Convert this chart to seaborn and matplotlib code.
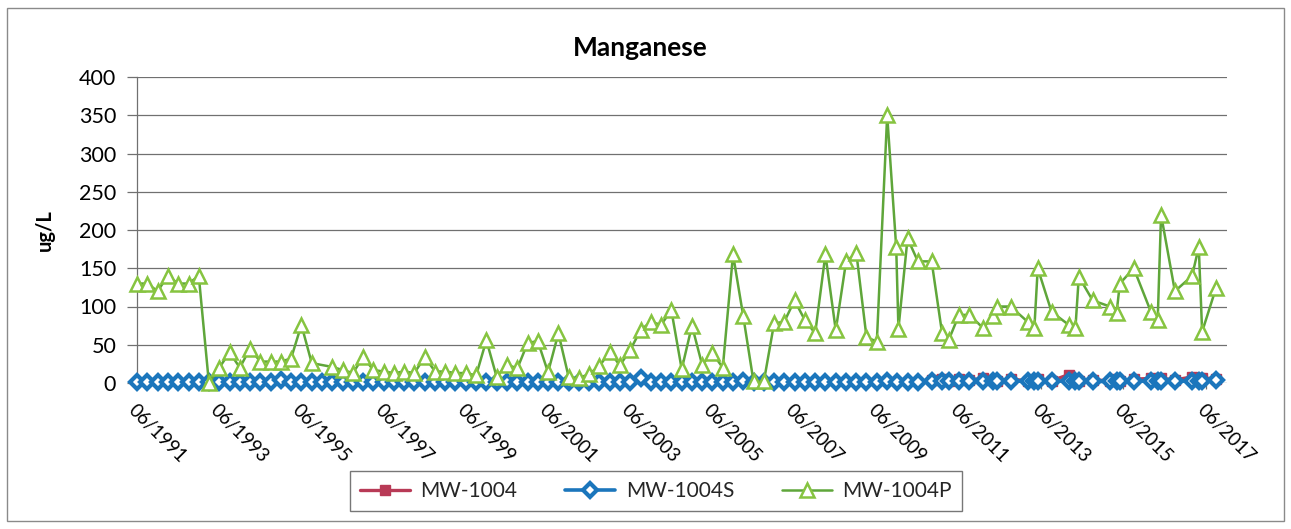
import matplotlib
matplotlib.use("Agg")
import matplotlib.pyplot as plt
from matplotlib.patches import Rectangle
import pandas as pd
import seaborn as sns

sns.set_theme(style="white")
plt.rcParams["font.family"] = ["Lato", "DejaVu Sans"]

# ---------------------------------------------------------------- data (ug/L)
TITLE = "Manganese"
Y_LABEL = "ug/L"
SERIES_NAMES = ["MW-1004", "MW-1004S", "MW-1004P"]
TICK_LABELS = ["06/1991", "06/1993", "06/1995", "06/1997", "06/1999", "06/2001",
               "06/2003", "06/2005", "06/2007", "06/2009", "06/2011", "06/2013",
               "06/2015", "06/2017"]

# recent sampling rounds shared by all three wells
RECENT_DATES = [
    "2010-10",
    "2011-01", "2011-03", "2011-06", "2011-09",
    "2012-01", "2012-04", "2012-05", "2012-09",
    "2013-02", "2013-04", "2013-05", "2013-09",
    "2014-02", "2014-04", "2014-05", "2014-09",
    "2015-02", "2015-04", "2015-05", "2015-09",
    "2016-02", "2016-04", "2016-05", "2016-09",
    "2017-02", "2017-04", "2017-05", "2017-09",
]

# MW-1004 (recent rounds only)
MW1004_DATES = RECENT_DATES
MW1004_VALUES = [4, 5, 3, 5, 4, 6, 4, 3, 5, 3, 4, 5, 3, 11, 5, 3, 4, 3, 5, 3,
                 5, 6, 5, 6, 4, 8, 7, 7, 5]

# MW-1004S, quarterly until mid-2010
MW1004S_DATES = [
    "1991-06", "1991-09", "1991-12",
    "1992-03", "1992-06", "1992-09", "1992-12",
    "1993-03", "1993-06", "1993-09", "1993-12",
    "1994-03", "1994-06", "1994-09", "1994-12",
    "1995-03", "1995-06", "1995-09", "1995-12",
    "1996-03", "1996-06", "1996-09", "1996-12",
    "1997-03", "1997-06", "1997-09", "1997-12",
    "1998-03", "1998-06", "1998-09", "1998-12",
    "1999-03", "1999-06", "1999-09", "1999-12",
    "2000-03", "2000-06", "2000-09", "2000-12",
    "2001-03", "2001-06", "2001-09", "2001-12",
    "2002-03", "2002-06", "2002-09", "2002-12",
    "2003-03", "2003-06", "2003-09", "2003-12",
    "2004-03", "2004-06", "2004-09", "2004-12",
    "2005-03", "2005-06", "2005-09", "2005-12",
    "2006-03", "2006-06", "2006-09", "2006-12",
    "2007-03", "2007-06", "2007-09", "2007-12",
    "2008-03", "2008-06", "2008-09", "2008-12",
    "2009-03", "2009-06", "2009-09", "2009-12",
    "2010-03", "2010-06",
] + RECENT_DATES
MW1004S_VALUES = [
    1, 1, 1,
    1, 1, 1, 1,
    1, 1, 1, 1,
    1, 1, 1, 4,
    1, 1, 1, 1,
    1, 1, 1, 1,
    1, 1, 1, 1,
    1, 1, 1, 1,
    1, 1, 1, 1,
    1, 1, 1, 1,
    1, 1, 1, 1,
    1, 1, 1, 1,
    1, 1, 6, 1,
    1, 1, 1, 1,
    1, 1, 1, 1,
    3, 1, 1, 1,
    1, 1, 1, 1,
    1, 1, 1, 1,
    1, 1, 3, 1,
    1, 1,
    2, 3, 2, 3, 2, 3, 2, 2, 3, 2, 2, 2, 3, 2, 2, 3, 2, 2, 3, 2,
    3, 2, 3, 2, 3, 2, 3, 2, 4,
]

# MW-1004P
MW1004P_DATES = [
    "1991-06", "1991-09", "1991-12",
    "1992-03", "1992-06", "1992-09", "1992-12",
    "1993-03", "1993-06", "1993-09", "1993-12",
    "1994-03", "1994-06", "1994-09", "1994-12",
    "1995-03", "1995-06", "1995-09",
    "1996-03", "1996-06", "1996-09", "1996-12",
    "1997-03", "1997-06", "1997-09", "1997-12",
    "1998-03", "1998-06", "1998-09", "1998-12",
    "1999-03", "1999-06", "1999-09", "1999-12",
    "2000-03", "2000-06", "2000-09", "2000-12",
    "2001-03", "2001-06", "2001-09", "2001-12",
    "2002-03", "2002-06", "2002-09", "2002-12",
    "2003-03", "2003-06", "2003-09", "2003-12",
    "2004-03", "2004-06", "2004-09", "2004-12",
    "2005-03", "2005-06", "2005-09", "2005-12",
    "2006-03", "2006-06", "2006-09", "2006-12",
    "2007-03", "2007-06", "2007-09", "2007-12",
    "2008-03", "2008-06", "2008-09", "2008-12",
    "2009-03", "2009-06", "2009-09", "2009-11-20", "2009-12-10",
    "2010-03", "2010-06",
] + RECENT_DATES
MW1004P_VALUES = [
    130, 130, 120,
    140, 130, 130, 140,
    0, 20, 40, 20,
    45, 28, 28, 28,
    32, 76, 26,
    21, 17, 13, 34,
    17, 15, 13, 15,
    13, 34, 15, 15,
    13, 13, 10, 56,
    8, 24, 19, 52,
    55, 14, 65, 8,
    6, 12, 22, 41,
    23, 43, 69, 80,
    76, 95, 18, 75,
    24, 39, 20, 168,
    88, 2, 2, 78,
    80, 108, 82, 65,
    168, 69, 159, 170,
    60, 54, 350, 178, 71,
    189, 159,
    159,
    66, 56, 89, 89,
    72, 87, 100, 100,
    80, 72, 150, 93,
    76, 72, 139, 108,
    100, 91, 130, 150,
    93, 82, 220, 120,
    140, 178, 67, 124,
]

# ---------------------------------------------------------------- styling
RED = "#B83A56"
BLUE = "#1B76BC"
GREEN_LINE = "#5FA63A"
GREEN_MARK = "#86C440"
GRID = "#707070"

W, H = 1291, 529
fig = plt.figure(figsize=(W / 100, H / 100), dpi=100)
fig.patch.set_facecolor("white")

# chart-area border
fig.patches.append(Rectangle((7 / W, 1 - 521 / H), (1284 - 7) / W, (521 - 8) / H,
                             transform=fig.transFigure, fill=False,
                             edgecolor="#8a8a8a", linewidth=1.0))

ax = fig.add_axes([137 / W, 1 - 383 / H, (1227 - 137) / W, (383 - 77) / H])


def frame(dates, values):
    return pd.DataFrame({"date": pd.to_datetime(dates, format="ISO8601"),
                         "value": values})


sns.lineplot(data=frame(MW1004_DATES, MW1004_VALUES), x="date", y="value",
             ax=ax, errorbar=None, color=RED, linewidth=2.4,
             marker="s", markersize=6.5, markerfacecolor=RED,
             markeredgecolor=RED, markeredgewidth=1.0,
             label=SERIES_NAMES[0], clip_on=False, zorder=3)
sns.lineplot(data=frame(MW1004S_DATES, MW1004S_VALUES), x="date", y="value",
             ax=ax, errorbar=None, color=BLUE, linewidth=2.6,
             marker="D", markersize=7.0, markerfacecolor="white",
             markeredgecolor=BLUE, markeredgewidth=3.0,
             label=SERIES_NAMES[1], clip_on=False, zorder=4)
sns.lineplot(data=frame(MW1004P_DATES, MW1004P_VALUES), x="date", y="value",
             ax=ax, errorbar=None, color=GREEN_LINE, linewidth=1.8,
             marker="^", markersize=10, markerfacecolor="white",
             markeredgecolor=GREEN_MARK, markeredgewidth=1.8,
             label=SERIES_NAMES[2], clip_on=False, zorder=5)

# axes
ax.set_ylim(0, 400)
ax.set_yticks(range(0, 401, 50))
ax.yaxis.grid(True, color=GRID, linewidth=0.9)
ax.xaxis.grid(False)
ax.set_xlim(pd.Timestamp("1991-06-01"), pd.Timestamp("2017-12-08"))
tick_dates = pd.to_datetime(TICK_LABELS, format="%m/%Y")
ax.set_xticks(tick_dates)
ax.set_xticklabels(TICK_LABELS, rotation=-45, ha="left", va="top",
                   rotation_mode="anchor")
ax.tick_params(axis="y", which="major", left=True, length=7, width=0.9,
               color=GRID, labelsize=15.5, pad=8, labelcolor="black")
ax.tick_params(axis="x", which="major", bottom=True, length=4, width=0.9,
               color=GRID, labelsize=13.5, pad=9, labelcolor="black")
ax.set_xlabel("")
ax.set_ylabel("")
for side in ("top", "right", "bottom"):
    ax.spines[side].set_visible(False)
ax.spines["left"].set_color(GRID)
ax.spines["left"].set_linewidth(0.9)
if ax.get_legend() is not None:
    ax.get_legend().remove()

# title and axis title
fig.text(640 / W, 1 - 48 / H, TITLE, ha="center", va="center",
         fontsize=19, fontweight="bold", color="black")
fig.text(45 / W, 1 - 230 / H, Y_LABEL, ha="center", va="center",
         rotation=90, fontsize=14.5, fontweight="bold", color="black")

# legend
handles, labels = ax.get_legend_handles_labels()
leg = fig.legend(handles, labels, loc="center",
                 bbox_to_anchor=(656 / W, 1 - 491 / H), ncol=3,
                 frameon=True, fancybox=False, edgecolor="#555555",
                 fontsize=15, handlelength=2.4, columnspacing=2.3,
                 handletextpad=0.5, borderpad=0.5, borderaxespad=0.0)
leg.get_frame().set_linewidth(1.0)

fig.savefig("out.png", dpi=100)
